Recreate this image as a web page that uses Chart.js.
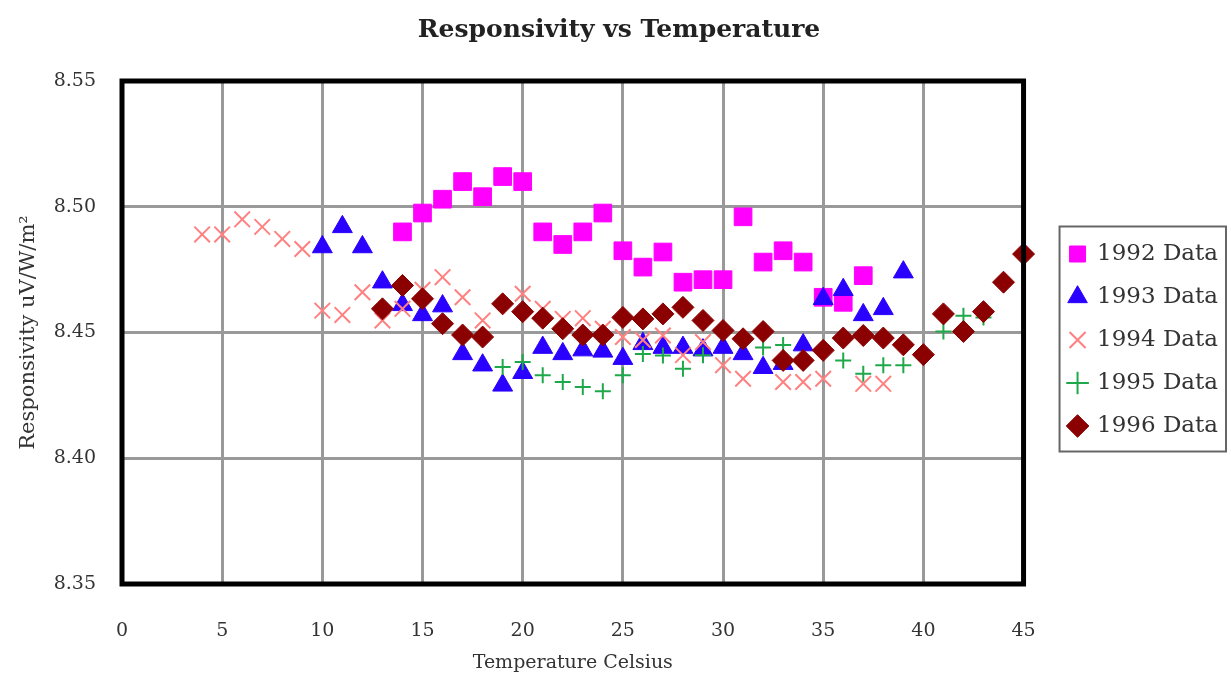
<!DOCTYPE html>
<html lang="en">
<head>
    <meta charset="UTF-8">
    <title>Responsivity vs Temperature</title>
    <script src="https://cdn.jsdelivr.net/npm/chart.js"></script>
    <style>
        html, body { margin: 0; padding: 0; background: #fff; }
        #wrap { width: 1231px; height: 680px; }
    </style>
</head>
<body>
    <div id="wrap"><canvas id="respChart"></canvas></div>
    <script>
        // Temperature (Celsius) and responsivity readings per year
        const temps1992 = [14, 15, 16, 17, 18, 19, 20, 21, 22, 23, 24, 25, 26, 27, 28, 29, 30, 31, 32, 33, 34, 35, 36, 37];
        const resp1992 = [8.490, 8.4975, 8.503, 8.510, 8.504, 8.512, 8.510, 8.490, 8.485, 8.490, 8.4975, 8.4825, 8.476, 8.482, 8.470, 8.471, 8.471, 8.496, 8.478, 8.4825, 8.478, 8.464, 8.462, 8.4726];

        const temps1993 = [10, 11, 12, 13, 14, 15, 16, 17, 18, 19, 20, 21, 22, 23, 24, 25, 26, 27, 28, 29, 30, 31, 32, 33, 34, 35, 36, 37, 38, 39];
        const resp1993 = [8.484, 8.492, 8.484, 8.470, 8.461, 8.457, 8.4605, 8.4415, 8.437, 8.429, 8.434, 8.444, 8.4415, 8.443, 8.4425, 8.4396, 8.4455, 8.444, 8.444, 8.443, 8.444, 8.4415, 8.436, 8.4376, 8.445, 8.4634, 8.467, 8.457, 8.4594, 8.474];

        const temps1994 = [4, 5, 6, 7, 8, 9, 10, 11, 12, 13, 14, 15, 16, 17, 18, 20, 21, 22, 23, 24, 25, 26, 27, 28, 29, 30, 31, 33, 34, 35, 37, 38];
        const resp1994 = [8.489, 8.489, 8.495, 8.492, 8.4872, 8.4832, 8.4587, 8.457, 8.466, 8.4548, 8.4594, 8.467, 8.472, 8.464, 8.4548, 8.4654, 8.4594, 8.4554, 8.4557, 8.4515, 8.4482, 8.447, 8.4488, 8.441, 8.4462, 8.437, 8.4316, 8.4303, 8.4303, 8.4316, 8.4296, 8.4296];

        const temps1995 = [19, 20, 21, 22, 23, 24, 25, 26, 27, 28, 29, 32, 33, 36, 37, 38, 39, 41, 42, 43];
        const resp1995 = [8.4363, 8.4383, 8.433, 8.4303, 8.4283, 8.4266, 8.433, 8.4415, 8.4409, 8.4356, 8.441, 8.444, 8.445, 8.4389, 8.4336, 8.437, 8.437, 8.4504, 8.4567, 8.456];

        const temps1996 = [13, 14, 15, 16, 17, 18, 19, 20, 21, 22, 23, 24, 25, 26, 27, 28, 29, 30, 31, 32, 33, 34, 35, 36, 37, 38, 39, 40, 41, 42, 43, 44, 45];
        const resp1996 = [8.4594, 8.4687, 8.4634, 8.4535, 8.449, 8.4482, 8.4614, 8.4583, 8.4557, 8.4515, 8.449, 8.449, 8.456, 8.4554, 8.4574, 8.460, 8.4548, 8.4508, 8.4475, 8.4504, 8.4389, 8.4389, 8.4429, 8.4478, 8.4488, 8.4478, 8.4451, 8.4412, 8.4574, 8.4504, 8.4583, 8.470, 8.4812];

        const seriesNames = ['1992 Data', '1993 Data', '1994 Data', '1995 Data', '1996 Data'];

        const serif = "'DejaVu Serif', 'Liberation Serif', serif";

        function toPoints(xs, ys) {
            return xs.map((x, i) => ({ x: x, y: ys[i] }));
        }

        // black frame round the plot area and a grey box round the legend
        const framePlugin = {
            id: 'frame',
            afterDatasetsDraw(chart) {
                const a = chart.chartArea;
                const ctx = chart.ctx;
                ctx.save();
                ctx.strokeStyle = '#000';
                ctx.lineWidth = 5;
                ctx.strokeRect(a.left, a.top, a.right - a.left, a.bottom - a.top);
                ctx.restore();
            },
            afterDraw(chart) {
                const boxes = chart.legend && chart.legend.legendHitBoxes;
                if (!boxes || !boxes.length) return;
                const ctx = chart.ctx;
                const top = Math.min(...boxes.map(b => b.top)) - 16;
                const bottom = Math.max(...boxes.map(b => b.top + b.height)) + 14;
                const left = Math.min(...boxes.map(b => b.left)) - 10;
                const right = Math.max(...boxes.map(b => b.left + b.width)) + 8;
                ctx.save();
                ctx.strokeStyle = '#666';
                ctx.lineWidth = 2;
                ctx.strokeRect(left, top, right - left, bottom - top);
                ctx.restore();
            }
        };

        const ctx = document.getElementById('respChart').getContext('2d');
        new Chart(ctx, {
            type: 'scatter',
            data: {
                datasets: [
                    {
                        label: seriesNames[0],
                        data: toPoints(temps1992, resp1992),
                        pointStyle: 'rect',
                        pointRadius: 12.5,
                        backgroundColor: '#ff00ff',
                        borderColor: '#ff00ff',
                        borderWidth: 1,
                        order: 5
                    },
                    {
                        label: seriesNames[1],
                        data: toPoints(temps1993, resp1993),
                        pointStyle: 'triangle',
                        pointRadius: 11.5,
                        backgroundColor: '#2a00ff',
                        borderColor: '#2a00ff',
                        borderWidth: 1,
                        order: 4
                    },
                    {
                        label: seriesNames[2],
                        data: toPoints(temps1994, resp1994),
                        pointStyle: 'crossRot',
                        pointRadius: 11,
                        backgroundColor: '#ff8080',
                        borderColor: '#ff8080',
                        borderWidth: 2,
                        order: 3
                    },
                    {
                        label: seriesNames[3],
                        data: toPoints(temps1995, resp1995),
                        pointStyle: 'cross',
                        pointRadius: 8,
                        backgroundColor: '#1fa84a',
                        borderColor: '#1fa84a',
                        borderWidth: 2,
                        order: 2
                    },
                    {
                        label: seriesNames[4],
                        data: toPoints(temps1996, resp1996),
                        pointStyle: 'rectRot',
                        pointRadius: 11,
                        backgroundColor: '#8b0000',
                        borderColor: '#8b0000',
                        borderWidth: 1,
                        order: 1
                    }
                ]
            },
            options: {
                responsive: true,
                maintainAspectRatio: false,
                animation: false,
                clip: false,
                layout: { padding: { left: 10, right: 3, top: 6, bottom: 6 } },
                plugins: {
                    title: {
                        display: true,
                        text: 'Responsivity vs Temperature',
                        color: '#222',
                        font: { family: serif, size: 25, weight: 'bold' },
                        padding: { top: 9, bottom: 36 }
                    },
                    legend: {
                        position: 'right',
                        labels: {
                            usePointStyle: true,
                            boxWidth: 16,
                            boxHeight: 16,
                            padding: 20,
                            color: '#333',
                            font: { family: serif, size: 23 },
                            sort: (a, b) => a.datasetIndex - b.datasetIndex
                        }
                    },
                    tooltip: { enabled: false }
                },
                scales: {
                    x: {
                        type: 'linear',
                        min: 0,
                        max: 45,
                        afterFit: s => { s.height = 90; },
                        ticks: {
                            stepSize: 5,
                            color: '#333',
                            padding: 36,
                            font: { family: serif, size: 19 }
                        },
                        grid: { color: '#999', lineWidth: 3, drawTicks: false },
                        border: { display: false },
                        title: {
                            display: true,
                            text: 'Temperature Celsius',
                            color: '#333',
                            font: { family: serif, size: 19 },
                            padding: { top: 6, bottom: 0 }
                        }
                    },
                    y: {
                        min: 8.35,
                        max: 8.55,
                        afterFit: s => { s.width = 112; },
                        ticks: {
                            stepSize: 0.05,
                            color: '#333',
                            padding: 26,
                            font: { family: serif, size: 19 },
                            callback: v => v.toFixed(2)
                        },
                        grid: { color: '#999', lineWidth: 3, drawTicks: false },
                        border: { display: false },
                        title: {
                            display: true,
                            text: 'Responsivity uV/W/m²',
                            color: '#333',
                            font: { family: serif, size: 21 },
                            padding: { top: 6, bottom: 2 }
                        }
                    },
                    // empty axis that keeps a gap between the plot and the legend
                    gap: {
                        type: 'linear',
                        position: 'right',
                        display: true,
                        afterFit: s => { s.width = 26; },
                        ticks: { display: false },
                        grid: { display: false },
                        border: { display: false }
                    }
                }
            },
            plugins: [framePlugin]
        });
    </script>
</body>
</html>
